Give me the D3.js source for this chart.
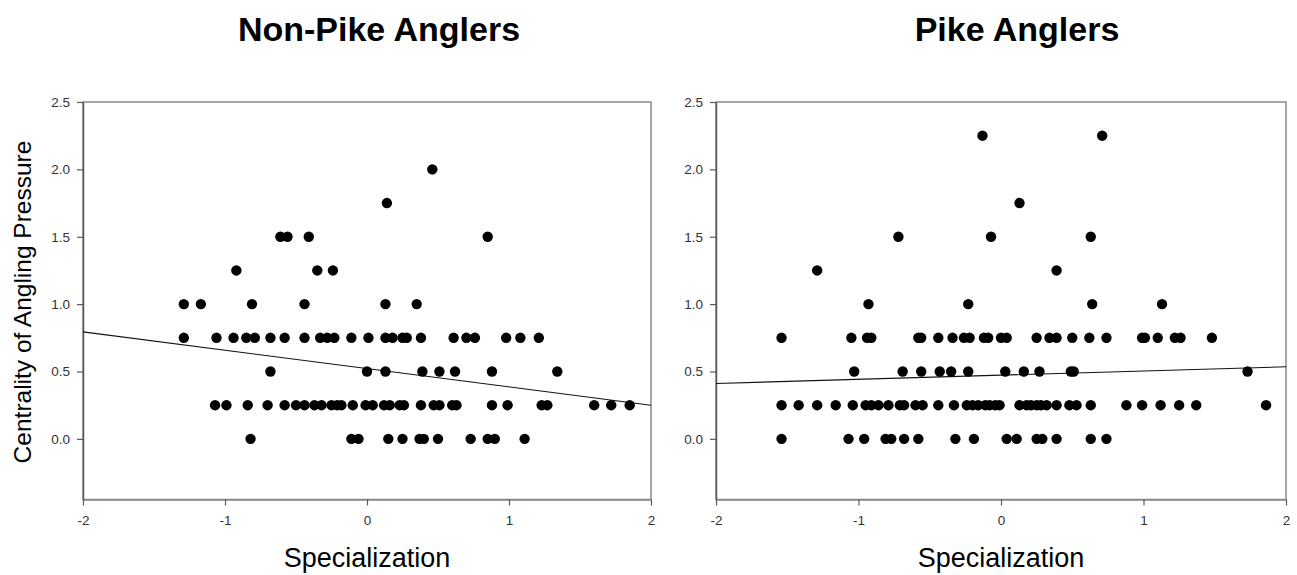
<!DOCTYPE html>
<html lang="en">
<head>
<meta charset="UTF-8">
<title>Centrality of Angling Pressure vs Specialization</title>
<script src="https://cdn.jsdelivr.net/npm/d3@7"></script>
<style>
  body { margin: 0; background: #fff; }
  text { font-family: Arial, "Liberation Sans", sans-serif; }
</style>
</head>
<body>
<div id="chart"></div>
<script>
const panelTitles = ["Non-Pike Anglers", "Pike Anglers"];
const xTicks = [-2, -1, 0, 1, 2];
const yTicks = [0, 0.5, 1, 1.5, 2, 2.5];

// y levels (centrality) and the specialization scores found on each level
const nonPikeLevels = [2.0, 1.75, 1.5, 1.25, 1.0, 0.75, 0.5, 0.25, 0.0];
const nonPikeX = [
  [0.46],
  [0.14],
  [-0.61, -0.56, -0.41, 0.85],
  [-0.92, -0.35, -0.24],
  [-1.29, -1.17, -0.81, -0.44, 0.13, 0.35],
  [-1.29, -1.06, -0.94, -0.85, -0.79, -0.68, -0.58, -0.44, -0.33, -0.28, -0.23, -0.11, 0.01, 0.13, 0.18, 0.25, 0.28, 0.38, 0.61, 0.70, 0.76, 0.98, 1.08, 1.21],
  [-0.68, 0.00, 0.13, 0.39, 0.51, 0.62, 0.88, 1.34],
  [-1.07, -0.99, -0.84, -0.70, -0.58, -0.50, -0.44, -0.37, -0.32, -0.25, -0.21, -0.18, -0.10, -0.01, 0.04, 0.12, 0.16, 0.23, 0.26, 0.38, 0.47, 0.51, 0.60, 0.63, 0.88, 0.99, 1.23, 1.27, 1.60, 1.72, 1.85],
  [-0.82, -0.11, -0.06, 0.15, 0.25, 0.37, 0.40, 0.50, 0.73, 0.85, 0.90, 1.11]
];

const pikeLevels = [2.25, 1.75, 1.5, 1.25, 1.0, 0.75, 0.5, 0.25, 0.0];
const pikeX = [
  [-0.13, 0.71],
  [0.13],
  [-0.72, -0.07, 0.63],
  [-1.29, 0.39],
  [-0.93, -0.23, 0.64, 1.13],
  [-1.54, -1.05, -0.94, -0.91, -0.58, -0.56, -0.44, -0.34, -0.26, -0.22, -0.12, -0.09, 0.00, 0.04, 0.25, 0.34, 0.39, 0.50, 0.62, 0.74, 0.99, 1.01, 1.10, 1.22, 1.26, 1.48],
  [-1.03, -0.69, -0.56, -0.43, -0.35, -0.23, 0.03, 0.16, 0.27, 0.49, 0.51, 1.73],
  [-1.54, -1.42, -1.29, -1.16, -1.04, -0.95, -0.91, -0.86, -0.79, -0.71, -0.68, -0.60, -0.55, -0.44, -0.33, -0.24, -0.20, -0.16, -0.11, -0.08, -0.04, -0.01, 0.13, 0.18, 0.21, 0.25, 0.28, 0.32, 0.39, 0.48, 0.53, 0.63, 0.88, 0.99, 1.12, 1.25, 1.37, 1.86],
  [-1.54, -1.07, -0.96, -0.81, -0.77, -0.68, -0.58, -0.32, -0.19, 0.04, 0.11, 0.25, 0.29, 0.39, 0.63, 0.74]
];

// regression lines: y = intercept + slope * x
const fitIntercepts = [0.522, 0.473];
const fitSlopes = [-0.136, 0.031];

const w = 1297;
const h = 575;
const plotTop = 102;
const plotBottom = 499.5;
const panelLeft = [83, 716];
const panelRight = [651, 1286];
const titleX = [379, 1017];

const svg = d3.select("#chart")
  .append("svg")
  .attr("width", w)
  .attr("height", h);

const toPoints = (levels, xs) => levels.flatMap((lv, i) => xs[i].map(x => [x, lv]));
const panelData = [toPoints(nonPikeLevels, nonPikeX), toPoints(pikeLevels, pikeX)];

panelData.forEach((points, i) => {
  const xScale = d3.scaleLinear()
    .domain([-2, 2])
    .range([panelLeft[i], panelRight[i]]);

  const yScale = d3.scaleLinear()
    .domain([-0.45, 2.5])
    .range([plotBottom, plotTop]);

  const g = svg.append("g");

  // frame
  g.append("rect")
    .attr("x", panelLeft[i])
    .attr("y", plotTop)
    .attr("width", panelRight[i] - panelLeft[i])
    .attr("height", plotBottom - plotTop)
    .attr("fill", "none")
    .attr("stroke", "#8a8a8a")
    .attr("stroke-width", 1.5);

  const yAxis = d3.axisLeft(yScale)
    .tickValues(yTicks)
    .tickFormat(d3.format(".1f"))
    .tickSize(6)
    .tickSizeOuter(0)
    .tickPadding(7);

  const yG = g.append("g")
    .attr("transform", `translate(${panelLeft[i]}, 0)`)
    .call(yAxis);

  const xAxis = d3.axisBottom(xScale)
    .tickValues(xTicks)
    .tickFormat(d => String(d))
    .tickSize(6)
    .tickSizeOuter(0)
    .tickPadding(10);

  const xG = g.append("g")
    .attr("transform", `translate(0, ${plotBottom})`)
    .call(xAxis);

  [yG, xG].forEach(ax => {
    ax.attr("font-size", 13.5)
      .attr("font-family", "Arial, 'Liberation Sans', sans-serif");
    ax.select(".domain").attr("stroke", "#5a5a5a").attr("stroke-width", 1.5);
    ax.selectAll(".tick line").attr("stroke", "#5a5a5a").attr("stroke-width", 1.2);
    ax.selectAll(".tick text")
      .attr("fill", "#333")
      .attr("font-size", 13.5);
  });
  xG.select(".domain").attr("stroke", "#8a8a8a");

  // regression line
  g.append("line")
    .attr("x1", xScale(-2))
    .attr("y1", yScale(fitIntercepts[i] + fitSlopes[i] * -2))
    .attr("x2", xScale(2))
    .attr("y2", yScale(fitIntercepts[i] + fitSlopes[i] * 2))
    .attr("stroke", "#111")
    .attr("stroke-width", 1.1);

  g.selectAll("circle")
    .data(points)
    .enter()
    .append("circle")
    .attr("cx", d => xScale(d[0]))
    .attr("cy", d => yScale(d[1]))
    .attr("r", 5.2)
    .attr("fill", "#000");

  svg.append("text")
    .text(panelTitles[i])
    .attr("x", titleX[i])
    .attr("y", 41)
    .attr("text-anchor", "middle")
    .style("font-size", "34px")
    .style("font-weight", "bold")
    .attr("fill", "#000");

  svg.append("text")
    .text("Specialization")
    .attr("x", (panelLeft[i] + panelRight[i]) / 2)
    .attr("y", 567)
    .attr("text-anchor", "middle")
    .style("font-size", "27px")
    .attr("fill", "#000");
});

svg.append("text")
  .text("Centrality of Angling Pressure")
  .attr("transform", "translate(31, 302) rotate(-90)")
  .attr("text-anchor", "middle")
  .style("font-size", "24.5px")
  .attr("fill", "#000");
</script>
</body>
</html>
